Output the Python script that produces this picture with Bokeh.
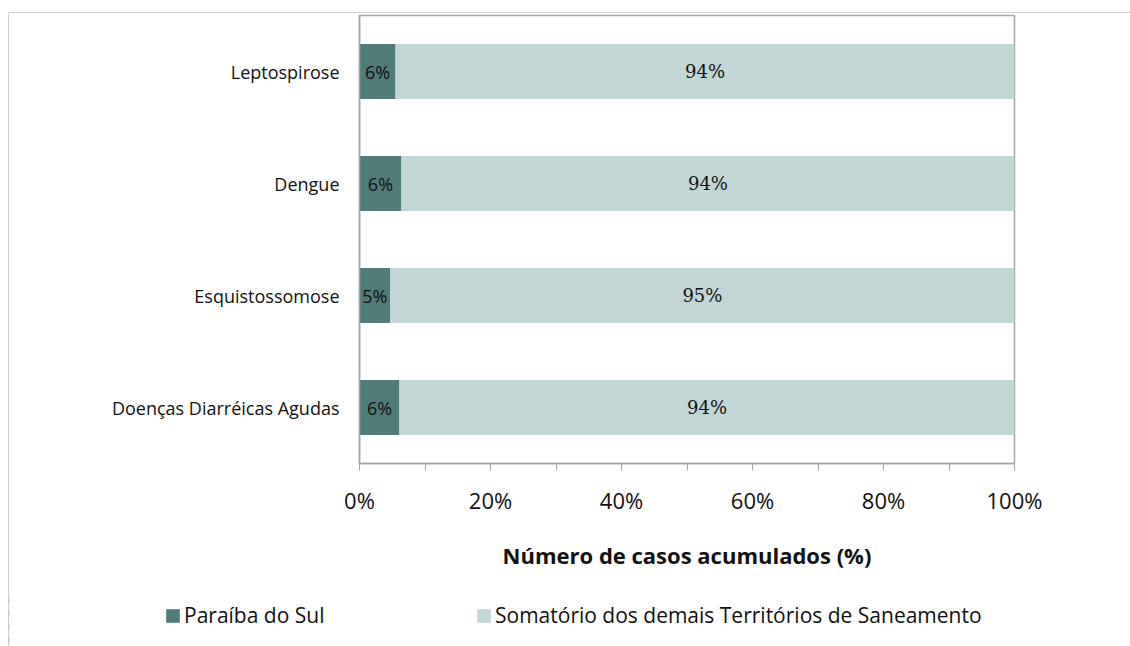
from bokeh.plotting import figure
from bokeh.layouts import column, row
from bokeh.models import (ColumnDataSource, FactorRange, Range1d, FixedTicker,
                          Legend, LegendItem, PrintfTickFormatter)
from bokeh.core.properties import value
from bokeh.embed import file_html
from bokeh.resources import INLINE

categories = ["Doenças Diarréicas Agudas", "Esquistossomose", "Dengue", "Leptospirose"]
paraiba = [6.1, 4.7, 6.4, 5.5]
demais = [93.9, 95.3, 93.6, 94.5]
paraiba_labels = ["6%", "5%", "6%", "6%"]
demais_labels = ["94%", "95%", "94%", "94%"]
series_names = ["Paraíba do Sul", "Somatório dos demais Territórios de Saneamento"]
x_ticks = [0, 20, 40, 60, 80, 100]
x_minor_ticks = [10, 30, 50, 70, 90]
axis_title = "Número de casos acumulados (%)"

DARK = "#4F7B79"
LIGHT = "#C2D6D5"
GRAY = "#A6A6A6"
FRAME_GRAY = "#A0A0A0"
SANS = "Open Sans"
TXT = "#111111"


def strip(width, height, left, top, right, bottom):
    f = figure(width=width, height=height, output_backend="svg", toolbar_location=None,
               x_axis_location=None, y_axis_location=None,
               min_border_left=left, min_border_top=top, min_border_right=right, min_border_bottom=bottom)
    f.grid.visible = False
    f.outline_line_color = None
    f.background_fill_color = FRAME_GRAY
    f.border_fill_color = "white"
    return f


src = ColumnDataSource(dict(
    cat=categories,
    paraiba=paraiba,
    demais=demais,
    mid1=[a / 2 for a in paraiba],
    mid2=[a + b / 2 for a, b in zip(paraiba, demais)],
    lab1=paraiba_labels,
    lab2=demais_labels,
))

p = figure(width=1121, height=580, output_backend="svg", toolbar_location=None,
           y_range=FactorRange(factors=categories, range_padding=0),
           x_range=Range1d(0, 100),
           min_border_left=350, min_border_right=116, min_border_top=2, min_border_bottom=130)

rs = p.hbar_stack(["paraiba", "demais"], y="cat", height=0.49, color=[DARK, LIGHT],
                  line_color=None, source=src)

p.text(x="mid1", y="cat", text="lab1", source=src, text_align="center", text_baseline="middle",
       text_font=value(SANS), text_font_size="18px", text_color=TXT)
p.text(x="mid2", y="cat", text="lab2", source=src, text_align="center", text_baseline="middle",
       text_font=value("DejaVu Serif"), text_font_size="18px", text_color=TXT)

p.grid.visible = False
p.outline_line_color = GRAY
p.outline_line_width = 1.5
p.background_fill_color = "white"
p.border_fill_color = "white"

xa = p.xaxis[0]
xa.ticker = FixedTicker(ticks=x_ticks, minor_ticks=x_minor_ticks)
xa.formatter = PrintfTickFormatter(format="%d%%")
xa.axis_line_color = GRAY
xa.axis_line_width = 1.5
xa.major_tick_line_color = GRAY
xa.minor_tick_line_color = GRAY
xa.major_tick_in = 0
xa.major_tick_out = 7
xa.minor_tick_in = 0
xa.minor_tick_out = 7
xa.major_label_standoff = 14
xa.major_label_text_font = SANS
xa.major_label_text_font_size = "22px"
xa.major_label_text_color = TXT
xa.axis_label = axis_title
xa.axis_label_text_font = SANS
xa.axis_label_text_font_style = "bold"
xa.axis_label_text_font_size = "22px"
xa.axis_label_text_color = TXT
xa.axis_label_standoff = 22

ya = p.yaxis[0]
ya.axis_line_color = GRAY
ya.axis_line_width = 1.5
ya.major_tick_line_color = None
ya.minor_tick_line_color = None
ya.major_tick_out = 0
ya.major_tick_in = 0
ya.major_label_standoff = 20
ya.major_label_text_font = SANS
ya.major_label_text_font_size = "18px"
ya.major_label_text_color = TXT

# legend figure below the chart (its bars fall outside its x range, only the legend shows)
p2 = figure(width=1121, height=53, output_backend="svg", toolbar_location=None,
            x_axis_location=None, y_axis_location=None,
            y_range=FactorRange(factors=categories), x_range=Range1d(1000, 1001),
            min_border_left=0, min_border_right=0, min_border_top=0, min_border_bottom=0)
p2.grid.visible = False
p2.outline_line_color = None
p2.background_fill_color = "white"
p2.border_fill_color = "white"
leg_rs = p2.hbar_stack(["paraiba", "demais"], y="cat", height=0.49, color=[DARK, LIGHT],
                       line_color=None, source=src)

for r, name, loc in zip(leg_rs, series_names, [(155, 17), (466, 17)]):
    leg = Legend(items=[LegendItem(label=name, renderers=[r])], location=loc,
                 orientation="horizontal", border_line_alpha=0, background_fill_alpha=0,
                 padding=0, margin=0, glyph_width=17, glyph_height=17, label_standoff=3,
                 label_text_font=SANS, label_text_font_size="21px", label_text_color=TXT)
    p2.add_layout(leg)

top_line = strip(1130, 13, 8, 12, 0, 0)
left_line = strip(9, 633, 8, 0, 0, 0)

layout = column(top_line, row(left_line, column(p, row(p2))))

open("out.html", "w").write(file_html(layout, INLINE))
